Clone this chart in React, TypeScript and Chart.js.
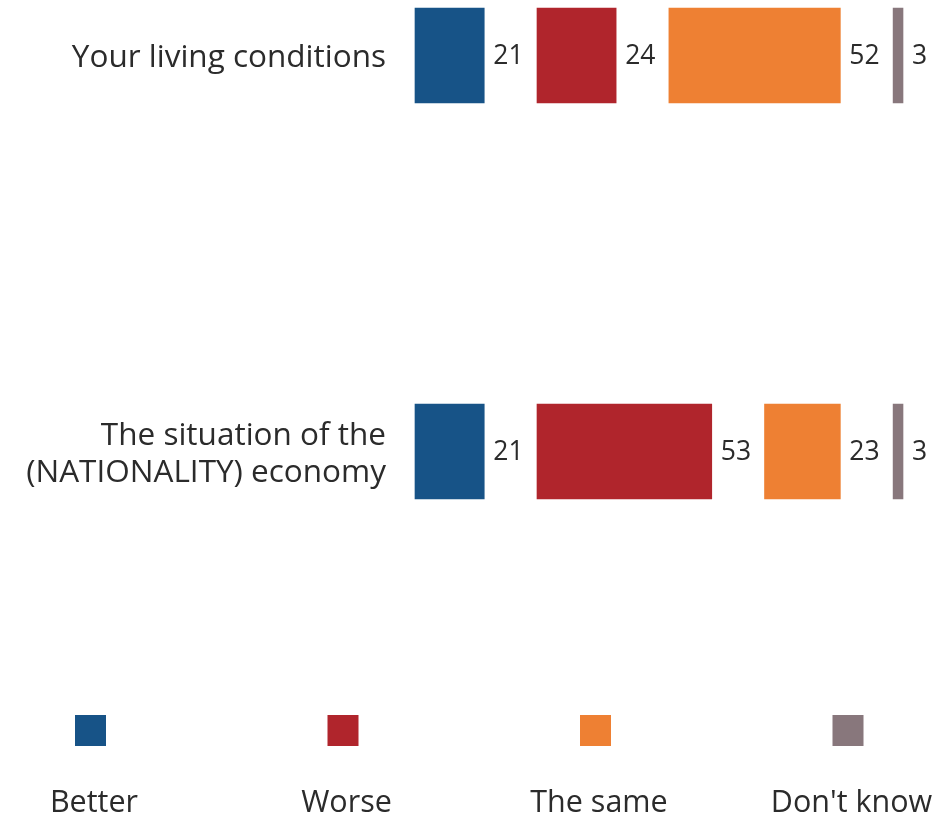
import React, { useEffect, useRef } from "react";
import { Chart, registerables } from "chart.js";

Chart.register(...registerables);

const categories: (string | string[])[] = [
  "Your living conditions",
  ["The situation of the", "(NATIONALITY) economy"],
];
const seriesNames = ["Better", "Worse", "The same", "Don't know"];
const better = [21, 21];
const worse = [24, 53];
const same = [52, 23];
const dontKnow = [3, 3];
const colors = ["#175387", "#b0252c", "#ee8033", "#88777c"];
const GAP = 16; // spacer between segments, room for the value labels

const FONT = "'Open Sans', 'Noto Sans', sans-serif";
const TEXT = "#2b2b2b";

const valueLabels = {
  id: "valueLabels",
  afterDatasetsDraw(chart: any) {
    const ctx = chart.ctx;
    ctx.save();
    ctx.font = `26.5px ${FONT}`;
    ctx.fillStyle = TEXT;
    ctx.textAlign = "left";
    ctx.textBaseline = "middle";
    chart.data.datasets.forEach((ds: any, di: number) => {
      if (ds.spacer) return;
      const meta = chart.getDatasetMeta(di);
      meta.data.forEach((bar: any, i: number) => {
        ctx.fillText(String(ds.data[i]), bar.x + 9, bar.y + 1);
      });
    });
    ctx.restore();
  },
};

const bottomLegend = {
  id: "bottomLegend",
  afterDraw(chart: any) {
    const ctx = chart.ctx;
    const items = chart.data.datasets.filter((d: any) => !d.spacer);
    const first = 90.5;
    const step = 252.5;
    ctx.save();
    ctx.font = `30.5px ${FONT}`;
    ctx.textAlign = "center";
    ctx.textBaseline = "alphabetic";
    items.forEach((d: any, i: number) => {
      const cx = first + i * step;
      ctx.fillStyle = d.backgroundColor;
      ctx.fillRect(cx - 15.5, 715, 31, 31);
      ctx.fillStyle = TEXT;
      ctx.fillText(d.label, cx + 3.5, 812);
    });
    ctx.restore();
  },
};

export default function App() {
  const ref = useRef<HTMLCanvasElement | null>(null);
  useEffect(() => {
    if (!ref.current) return;
    const real = [better, worse, same, dontKnow];
    const datasets: any[] = [];
    real.forEach((vals, k) => {
      if (k > 0) {
        datasets.push({
          label: "",
          spacer: true,
          data: categories.map(() => GAP),
          backgroundColor: "rgba(0,0,0,0)",
          barThickness: 95,
          clip: false,
        });
      }
      datasets.push({
        label: seriesNames[k],
        data: vals,
        backgroundColor: colors[k],
        barThickness: 95,
        clip: false,
      });
    });
    const chart = new Chart(ref.current, {
      type: "bar",
      data: { labels: categories as any, datasets },
      options: {
        indexAxis: "y",
        animation: false,
        responsive: true,
        maintainAspectRatio: false,
        layout: { padding: { top: 55.5, bottom: 364.5, left: 0, right: 43 } },
        plugins: { legend: { display: false }, tooltip: { enabled: false } },
        scales: {
          x: { stacked: true, display: false, min: 0, max: 148 },
          y: {
            stacked: true,
            offset: false,
            grid: { display: false, drawTicks: false },
            border: { display: false },
            ticks: {
              padding: 29,
              labelOffset: 3,
              color: TEXT,
              font: { family: FONT, size: 31.5, lineHeight: 1.2 },
            },
            afterFit(scale: any) {
              scale.width = 415;
              scale.paddingTop = 0;
              scale.paddingBottom = 0;
            },
          },
        },
      },
      plugins: [valueLabels, bottomLegend],
    } as any);
    return () => chart.destroy();
  }, []);
  return (
    <div style={{ position: "absolute", left: 0, top: 0, width: 946, height: 816, background: "#fff" }}>
      <canvas ref={ref} />
    </div>
  );
}
